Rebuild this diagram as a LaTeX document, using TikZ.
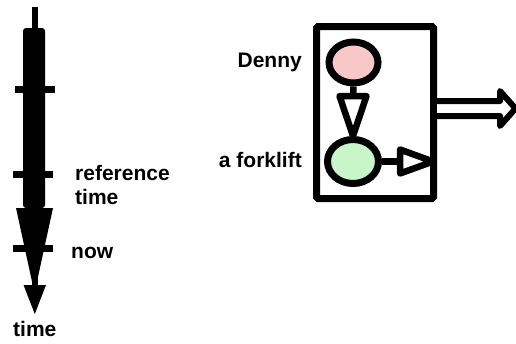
\documentclass[tikz,border=0pt]{standalone}
\usepackage{fontspec}
\setmainfont{Liberation Sans}
\usetikzlibrary{shapes.geometric,calc}
\definecolor{pinkfill}{RGB}{248,200,200}
\definecolor{greenfill}{RGB}{200,246,200}
\tikzset{
  lbl/.style={inner sep=0pt, font=\fontsize{21}{24}\selectfont\bfseries},
  tick/.style={line width=7pt},
  blob/.style={ellipse, draw, line width=7pt, inner sep=0pt},
  conn/.style={line width=6.5pt},
  headtri/.style={line width=6.5pt, line join=round, fill=white},
}
\begin{document}
\begin{tikzpicture}[x=1pt, y=-1pt]
\useasboundingbox (0,0) rectangle (516,343);
% timeline
\fill (31.5,7) rectangle (38,290);
\fill[rounded corners=3pt] (23,208) -- (23,28) -- (45,28) -- (45,208) -- cycle;
\fill (16,208) -- (53,208) -- (34.5,293) -- cycle;
\fill (23.5,285) -- (46,285) -- (34.8,314) -- cycle;
\draw[tick] (15,89) -- (55,89);
\draw[tick] (13,174) -- (53,174);
\draw[tick] (13,248) -- (53,248);
\node[lbl, anchor=base west] (ref) at (75,180) {reference};
\node[lbl, anchor=base west] (reft) at (75,204) {time};
\node[lbl, anchor=base west] (now) at (71,258) {now};
\node[lbl, anchor=base west] (tm) at (13,336) {time};
% box
\node[draw, line width=7pt, rounded corners=1.5pt, minimum width=117pt, minimum height=172pt, inner sep=0pt] (box) at (375,112.5) {};
\node[blob, fill=pinkfill, minimum width=49pt, minimum height=41pt] (denny) at (353.5,62.5) {};
\node[blob, fill=greenfill, minimum width=51pt, minimum height=44pt] (fork) at (353,161.5) {};
\node[lbl, anchor=base east] (dl) at (302,67) {Denny};
\node[lbl, anchor=base east] (fl) at (302,167) {a forklift};
% connector Denny -> forklift
\draw[conn] (denny.south) -- ($(fork.north)+(0,-38)$);
\draw[headtri] (fork.north) -- ++(-13.5,-40) -- ++(27,0) -- cycle;
% connector forklift -> box edge
\coordinate (fend) at ($(box.east |- fork.east)+(-4,0)$);
\draw[conn] (fork.east) -- ($(fend)+(-32,0)$);
\draw[headtri] (fend) -- ++(-33,-12) -- ++(0,24) -- cycle;
% output double arrow
\coordinate (dout) at ($(box.east)+(0,-3.5)$);
\draw[line width=6pt, line join=round, fill=white]
  ($(dout)+(0,-8)$) -- ++(63,0) -- ++(0,-10) -- ++(15.5,17.5) -- ++(-15.5,17.5) -- ++(0,-10) -- ++(-63,0);
\end{tikzpicture}
\end{document}
